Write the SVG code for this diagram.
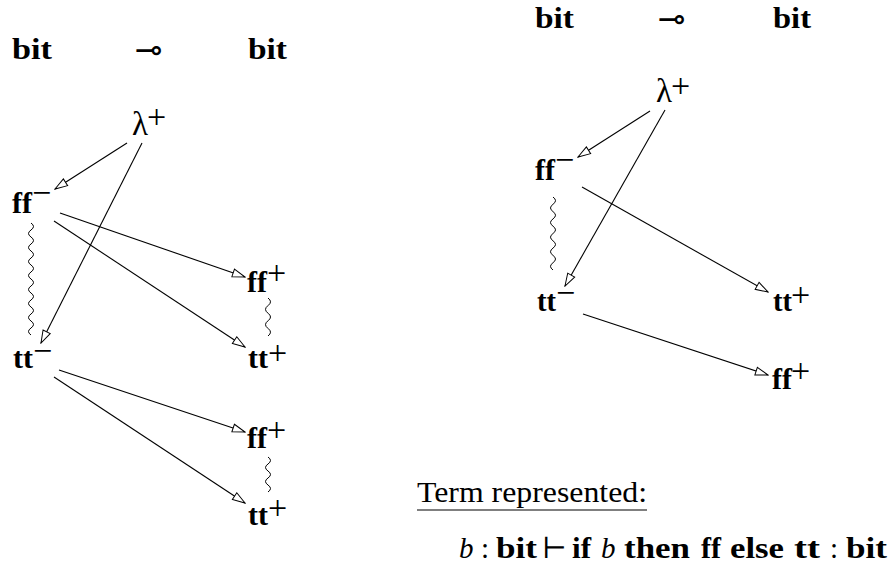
<svg xmlns="http://www.w3.org/2000/svg" width="888" height="571" viewBox="0 0 888 571">
<style>
.t{font-family:"Liberation Serif","DejaVu Serif",serif;font-size:29px;fill:#000}
.b{font-weight:bold}
.i{font-style:italic}
.sup{font-size:34px}
.lam{font-size:33px}
.sym{font-family:"DejaVu Sans",sans-serif;font-size:33px;fill:#000}
.edge{stroke:#000;stroke-width:1.1;fill:none;marker-end:url(#arr)}
.wave{stroke:#000;stroke-width:1;fill:none}
</style>
<defs>
<marker id="arr" markerUnits="userSpaceOnUse" markerWidth="15" markerHeight="11" viewBox="0 0 15 11" refX="14" refY="5.5" orient="auto">
<path d="M1.5,1.5 L14,5.5 L1.5,9.5 Z" fill="#fff" stroke="#000" stroke-width="1"/>
</marker>
</defs>
<rect width="888" height="571" fill="#fff"/>

<g id="left-header">
<text class="t b" x="12" y="59" textLength="40" lengthAdjust="spacingAndGlyphs">bit</text>
<text class="sym" x="135" y="61">⊸</text>
<text class="t b" x="248" y="59" textLength="39" lengthAdjust="spacingAndGlyphs">bit</text>
</g>
<g id="L-lambda"><text class="t lam" x="132" y="135">λ</text><text class="t sup" x="147" y="128">+</text></g>
<g id="L-ff-minus"><text class="t b" x="12" y="213" textLength="20" lengthAdjust="spacingAndGlyphs">ff</text><text class="t sup" x="32" y="204">−</text></g>
<g id="L-tt-minus"><text class="t b" x="13" y="368" textLength="20" lengthAdjust="spacingAndGlyphs">tt</text><text class="t sup" x="33" y="362">−</text></g>
<g id="L-ff-plus-1"><text class="t b" x="247" y="292" textLength="20" lengthAdjust="spacingAndGlyphs">ff</text><text class="t sup" x="267" y="284">+</text></g>
<g id="L-tt-plus-1"><text class="t b" x="248" y="368" textLength="20" lengthAdjust="spacingAndGlyphs">tt</text><text class="t sup" x="268" y="364">+</text></g>
<g id="L-ff-plus-2"><text class="t b" x="247" y="448" textLength="20" lengthAdjust="spacingAndGlyphs">ff</text><text class="t sup" x="267" y="441">+</text></g>
<g id="L-tt-plus-2"><text class="t b" x="248" y="525" textLength="20" lengthAdjust="spacingAndGlyphs">tt</text><text class="t sup" x="268" y="519">+</text></g>

<g id="right-header">
<text class="t b" x="535" y="28" textLength="39" lengthAdjust="spacingAndGlyphs">bit</text>
<text class="sym" x="658" y="30">⊸</text>
<text class="t b" x="773" y="28" textLength="38" lengthAdjust="spacingAndGlyphs">bit</text>
</g>
<g id="R-lambda"><text class="t lam" x="656" y="102">λ</text><text class="t sup" x="671" y="97">+</text></g>
<g id="R-ff-minus"><text class="t b" x="535" y="180" textLength="20" lengthAdjust="spacingAndGlyphs">ff</text><text class="t sup" x="555" y="171">−</text></g>
<g id="R-tt-minus"><text class="t b" x="537" y="311" textLength="19" lengthAdjust="spacingAndGlyphs">tt</text><text class="t sup" x="556" y="304">−</text></g>
<g id="R-tt-plus"><text class="t b" x="773" y="311" textLength="19" lengthAdjust="spacingAndGlyphs">tt</text><text class="t sup" x="791" y="306">+</text></g>
<g id="R-ff-plus"><text class="t b" x="772" y="389" textLength="20" lengthAdjust="spacingAndGlyphs">ff</text><text class="t sup" x="791" y="382">+</text></g>

<g id="connectors">
<line class="edge" x1="127" y1="143" x2="55" y2="189"/>
<line class="edge" x1="142" y1="143" x2="41" y2="343"/>
<line class="edge" x1="60" y1="213" x2="245" y2="277"/>
<line class="edge" x1="54" y1="221" x2="245" y2="347"/>
<line class="edge" x1="59" y1="370" x2="245" y2="432"/>
<line class="edge" x1="54" y1="377" x2="245" y2="503"/>
<line class="edge" x1="650" y1="111" x2="578" y2="157"/>
<line class="edge" x1="665" y1="110" x2="565" y2="286"/>
<line class="edge" x1="582" y1="187" x2="768" y2="292"/>
<line class="edge" x1="583" y1="314" x2="768" y2="375"/>
<path class="wave" d="M31,223 q5,3.5 0,7 t0,7 t0,7 t0,7 t0,7 t0,7 t0,7 t0,7 t0,7 t0,7 t0,7 t0,7 t0,7 t0,7 t0,7 t0,7"/>
<path class="wave" d="M268,298 q5,3.8 0,7.6 t0,7.6 t0,7.6 t0,7.6 t0,7.6"/>
<path class="wave" d="M268,457 q5,3.5 0,7 t0,7 t0,7 t0,7 t0,7"/>
<path class="wave" d="M553,197 q5,3.65 0,7.3 t0,7.3 t0,7.3 t0,7.3 t0,7.3 t0,7.3 t0,7.3 t0,7.3 t0,7.3 t0,7.3"/>
</g>

<g id="caption">
<text class="t" x="417" y="502" font-size="30" textLength="230" lengthAdjust="spacingAndGlyphs">Term represented:</text>
<line x1="417" y1="510" x2="647" y2="510" stroke="#000" stroke-width="1.2"/>
</g>
<g id="formula">
<text class="t i" x="459" y="558" font-size="30">b</text>
<text class="t" x="481" y="558">:</text>
<text class="t b" x="496" y="558" textLength="41" lengthAdjust="spacingAndGlyphs">bit</text>
<text class="t" x="542" y="558" font-family="DejaVu Serif" font-size="23">⊢</text>
<text class="t b" x="572" y="558" textLength="19" lengthAdjust="spacingAndGlyphs">if</text>
<text class="t i" x="601" y="558" font-size="30">b</text>
<text class="t b" x="624" y="558" textLength="66" lengthAdjust="spacingAndGlyphs">then</text>
<text class="t b" x="701" y="558" textLength="20" lengthAdjust="spacingAndGlyphs">ff</text>
<text class="t b" x="730" y="558" textLength="54" lengthAdjust="spacingAndGlyphs">else</text>
<text class="t b" x="794" y="558" textLength="26" lengthAdjust="spacingAndGlyphs">tt</text>
<text class="t" x="830" y="558">:</text>
<text class="t b" x="846" y="558" textLength="41" lengthAdjust="spacingAndGlyphs">bit</text>
</g>
</svg>
